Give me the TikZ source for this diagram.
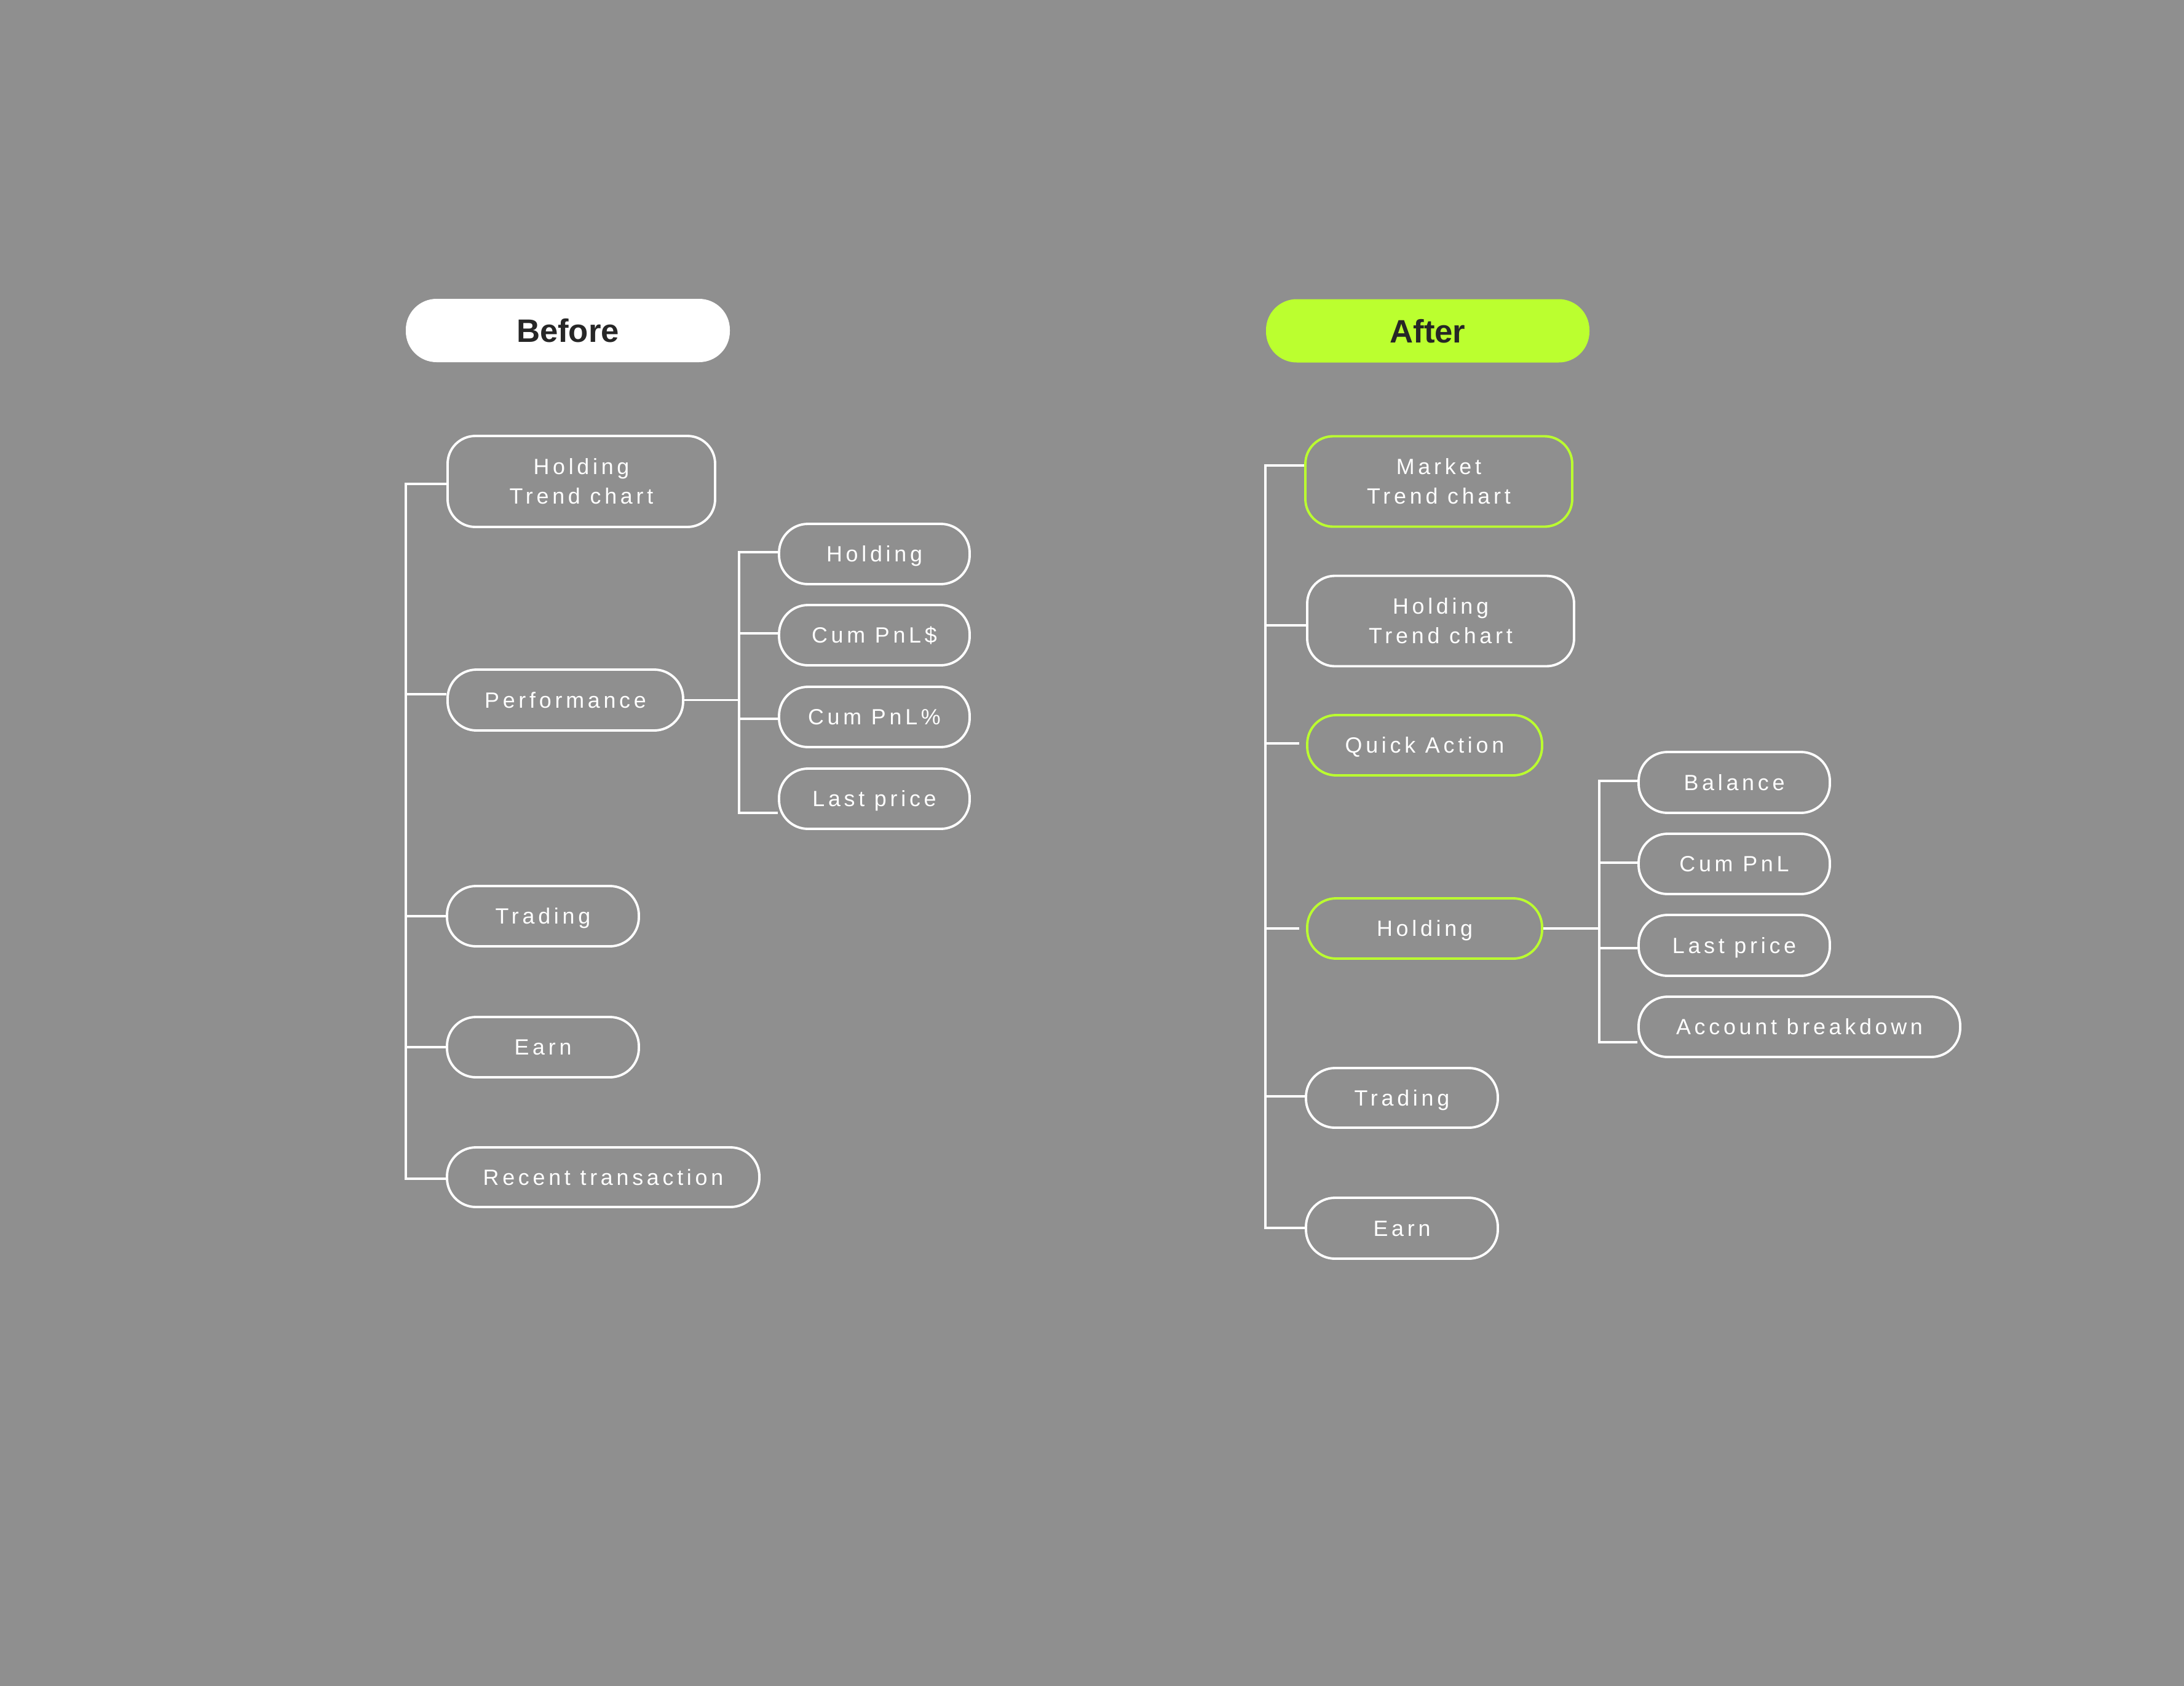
\documentclass[tikz,border=0pt]{standalone}
\usepackage{fontspec}
\newfontfamily\lblfontA[LetterSpace=16]{Liberation Sans}
\newfontfamily\ttlfontA{Liberation Sans}
\newcommand\lblf{\lblfontA\fontsize{10.2}{13.7}\selectfont}
\newcommand\ttlf{\ttlfontA\bfseries\fontsize{15}{18}\selectfont}
\definecolor{bggray}{RGB}{143,143,143}
\definecolor{lime}{RGB}{187,255,47}
\definecolor{titletext}{RGB}{38,38,38}
\tikzset{
  box/.style={draw=white, line width=1.1pt, rounded corners=0.47cm, text=white,
    inner sep=0pt, font=\lblf, text height=7.3pt, text depth=0pt, align=center},
  hl/.style={draw=lime},
  two/.style={text height=21pt, text depth=0pt, rounded corners=0.45cm},
  conn/.style={draw=white, line width=1.1pt},
  title/.style={rounded corners=0.5cm, inner sep=0pt, font=\ttlf, text=titletext,
    text height=10.9pt, text depth=0pt}
}
\begin{document}
\begin{tikzpicture}
\fill[bggray] (0,0) rectangle (35.52,-27.42);
\useasboundingbox (0,0) rectangle (35.52,-27.42);

% titles
\node[title, fill=white, minimum width=5.27cm, minimum height=1.03cm] (tB) at (9.235,-5.375) {Before};
\node[title, fill=lime, minimum width=5.26cm, minimum height=1.03cm] (tA) at (23.22,-5.38) {After};

% ---------- Before ----------
\node[box, two, minimum width=4.35cm, minimum height=1.48cm] (bHTC) at (9.455,-7.83) {Holding\\Trend chart};
\node[box, minimum width=3.83cm, minimum height=0.99cm] (bPerf) at (9.195,-11.385) {Performance};
\node[box, minimum width=3.10cm, minimum height=0.98cm] (bHold) at (14.22,-9.01) {Holding};
\node[box, minimum width=3.10cm, minimum height=0.98cm] (bCumD) at (14.22,-10.33) {Cum PnL\$};
\node[box, minimum width=3.10cm, minimum height=0.98cm] (bCumP) at (14.22,-11.66) {Cum PnL\%};
\node[box, minimum width=3.10cm, minimum height=0.98cm] (bLast) at (14.22,-12.99) {Last price};
\node[box, minimum width=3.12cm, minimum height=0.98cm] (bTrad) at (8.83,-14.90) {Trading};
\node[box, minimum width=3.12cm, minimum height=0.98cm] (bEarn) at (8.83,-17.03) {Earn};
\node[box, minimum width=5.08cm, minimum height=0.97cm] (bRec) at (9.81,-19.145) {Recent transaction};

\coordinate (vB1) at (6.60,-7.87);
\coordinate (vB2) at (6.60,-11.29);
\coordinate (vB3) at (6.60,-14.90);
\coordinate (vB4) at (6.60,-17.03);
\coordinate (vB5) at (6.60,-19.17);
\draw[conn] (bHTC.west |- vB1) -- (vB1) -- (vB5) -- (bRec.west |- vB5);
\draw[conn] (vB2) -- (bPerf.west |- vB2);
\draw[conn] (vB3) -- (bTrad.west |- vB3);
\draw[conn] (vB4) -- (bEarn.west |- vB4);

\coordinate (sB1) at (12.02,-8.98);
\coordinate (sB2) at (12.02,-10.30);
\coordinate (sB3) at (12.02,-11.69);
\coordinate (sB4) at (12.02,-13.22);
\draw[conn] (bHold.west |- sB1) -- (sB1) -- (sB4) -- (bLast.west |- sB4);
\draw[conn] (sB2) -- (bCumD.west |- sB2);
\draw[conn] (sB3) -- (bCumP.west |- sB3);
\draw[conn] (bPerf.east) -- (bPerf.east -| sB1);

% ---------- After ----------
\node[box, two, hl, minimum width=4.34cm, minimum height=1.47cm] (aMTC) at (23.40,-7.83) {Market\\Trend chart};
\node[box, two, minimum width=4.34cm, minimum height=1.47cm] (aHTC) at (23.43,-10.10) {Holding\\Trend chart};
\node[box, hl, minimum width=3.82cm, minimum height=0.98cm] (aQA) at (23.17,-12.12) {Quick Action};
\node[box, hl, minimum width=3.82cm, minimum height=0.98cm] (aHold) at (23.17,-15.10) {Holding};
\node[box, minimum width=3.11cm, minimum height=0.99cm] (aBal) at (28.205,-12.725) {Balance};
\node[box, minimum width=3.11cm, minimum height=0.98cm] (aCum) at (28.205,-14.05) {Cum PnL};
\node[box, minimum width=3.11cm, minimum height=0.99cm] (aLast) at (28.205,-15.375) {Last price};
\node[box, minimum width=5.23cm, minimum height=0.98cm] (aAcc) at (29.265,-16.70) {Account breakdown};
\node[box, minimum width=3.12cm, minimum height=0.97cm] (aTrad) at (22.80,-17.855) {Trading};
\node[box, minimum width=3.12cm, minimum height=0.99cm] (aEarn) at (22.80,-19.975) {Earn};

\coordinate (vA1) at (20.58,-7.57);
\coordinate (vA2) at (20.58,-10.17);
\coordinate (vA3) at (20.58,-12.09);
\coordinate (vA4) at (20.58,-15.10);
\coordinate (vA5) at (20.58,-17.83);
\coordinate (vA6) at (20.58,-19.97);
\draw[conn] (aMTC.west |- vA1) -- (vA1) -- (vA6) -- (aEarn.west |- vA6);
\draw[conn] (vA2) -- (aHTC.west |- vA2);
\draw[conn] ([xshift=-0.11cm]aQA.west |- vA3) -- ++(-0.54,0);
\draw[conn] ([xshift=-0.11cm]aHold.west |- vA4) -- ++(-0.54,0);
\draw[conn] (vA5) -- (aTrad.west |- vA5);

\coordinate (sA1) at (26.01,-12.70);
\coordinate (sA2) at (26.01,-14.03);
\coordinate (sA3) at (26.01,-15.42);
\coordinate (sA4) at (26.01,-16.95);
\draw[conn] (aBal.west |- sA1) -- (sA1) -- (sA4) -- (aAcc.west |- sA4);
\draw[conn] (sA2) -- (aCum.west |- sA2);
\draw[conn] (sA3) -- (aLast.west |- sA3);
\draw[conn] (aHold.east) -- (aHold.east -| sA1);
\end{tikzpicture}
\end{document}
